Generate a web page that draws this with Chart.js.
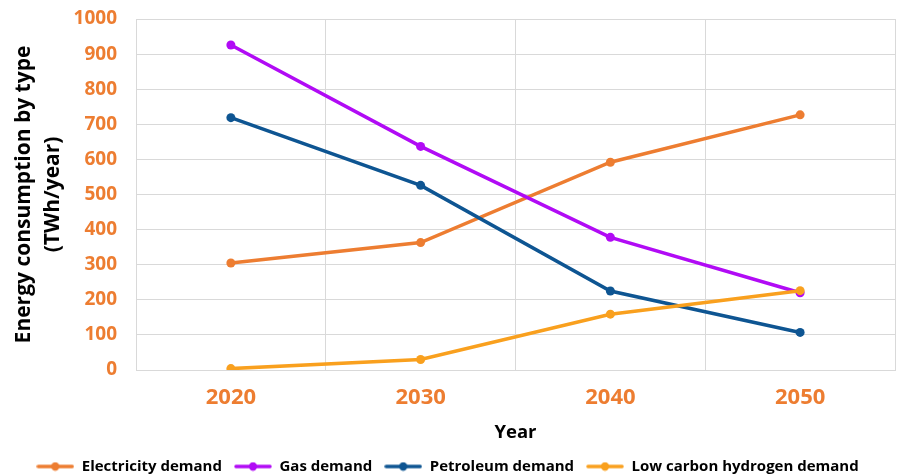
<!DOCTYPE html>
<html>
<head>
<meta charset="utf-8">
<script src="https://cdn.jsdelivr.net/npm/chart.js@4.4.1/dist/chart.umd.min.js"></script>
<style>
  html, body { margin: 0; padding: 0; background: #fff; }
  #wrap { width: 901px; height: 474px; position: relative; }
</style>
</head>
<body>
<div id="wrap"><canvas id="c" width="901" height="474"></canvas></div>
<script>
// Energy consumption by type, TWh/year
const years = ['2020', '2030', '2040', '2050'];
const electricityDemand = [305, 363, 592, 727];
const gasDemand = [926, 637, 378, 220];
const petroleumDemand = [719, 526, 225, 107];
const hydrogenDemand = [4, 30, 159, 226];
const yTicks = [0, 100, 200, 300, 400, 500, 600, 700, 800, 900, 1000];

const ORANGE = '#ED7D31';
const FONT = '"Open Sans", Lato, sans-serif';

const seriesDefs = [
  { label: 'Electricity demand', data: electricityDemand, color: '#ED7D31' },
  { label: 'Gas demand', data: gasDemand, color: '#B10BF5' },
  { label: 'Petroleum demand', data: petroleumDemand, color: '#0E5592' },
  { label: 'Low carbon hydrogen demand', data: hydrogenDemand, color: '#F9A01E' }
];

// legend swatch: short line with a dot in the middle
function swatch(color) {
  const cv = document.createElement('canvas');
  cv.width = 38; cv.height = 10;
  const g = cv.getContext('2d');
  g.strokeStyle = color; g.lineWidth = 3.5; g.lineCap = 'round';
  g.beginPath(); g.moveTo(2, 5); g.lineTo(36, 5); g.stroke();
  g.fillStyle = color;
  g.beginPath(); g.arc(19, 5, 4.2, 0, Math.PI * 2); g.fill();
  return cv;
}

new Chart(document.getElementById('c'), {
  type: 'line',
  data: {
    labels: years,
    // later series are painted over earlier ones
    datasets: seriesDefs.map((s, i) => ({
      label: s.label,
      data: s.data,
      order: seriesDefs.length - i,
      borderColor: s.color,
      backgroundColor: s.color,
      borderWidth: 3.5,
      pointRadius: 4.5,
      pointHoverRadius: 4.5,
      pointBackgroundColor: s.color,
      pointBorderWidth: 0,
      tension: 0,
      fill: false
    }))
  },
  options: {
    responsive: false,
    animation: false,
    events: [],
    layout: { padding: { top: 19, right: 6, bottom: -10, left: 0 } },
    plugins: {
      tooltip: { enabled: false },
      legend: {
        position: 'bottom',
        labels: {
          usePointStyle: true,
          pointStyleWidth: 38,
          boxHeight: 10,
          padding: 12,
          color: '#000',
          font: { family: FONT, size: 15, weight: 'bold' },
          generateLabels(chart) {
            return chart.data.datasets.map((d, i) => ({
              text: d.label,
              fillStyle: d.borderColor,
              strokeStyle: d.borderColor,
              pointStyle: swatch(d.borderColor),
              datasetIndex: i,
              hidden: false,
              fontColor: '#000'
            }));
          }
        }
      }
    },
    scales: {
      x: {
        offset: true,
        afterFit(scale) { scale.height = 77; },
        grid: { offset: true, color: '#D9D9D9', lineWidth: 1, drawTicks: false },
        border: { color: '#D9D9D9' },
        ticks: { color: ORANGE, padding: 15, font: { family: FONT, size: 22, weight: 'bold' } },
        title: { display: true, text: 'Year', color: '#000', padding: { top: 0, bottom: 3 }, font: { family: FONT, size: 18.5, weight: 'bold' } }
      },
      y: {
        min: 0, max: 1000,
        afterBuildTicks(scale) { scale.ticks = yTicks.map(v => ({ value: v })); },
        afterFit(scale) { scale.width = 136; scale.paddingTop = 0; scale.paddingBottom = 0; },
        grid: { color: '#D9D9D9', lineWidth: 1, drawTicks: false },
        border: { color: '#D9D9D9' },
        ticks: { color: ORANGE, padding: 19, callback: v => String(v), font: { family: FONT, size: 19, weight: 'bold' } },
        title: { display: true, text: ['Energy consumption by type', '(TWh/year)'], color: '#000', padding: { top: 10, bottom: 0 }, font: { family: FONT, size: 21, weight: 'bold', lineHeight: 1.35 } }
      }
    }
  }
});
</script>
</body>
</html>
